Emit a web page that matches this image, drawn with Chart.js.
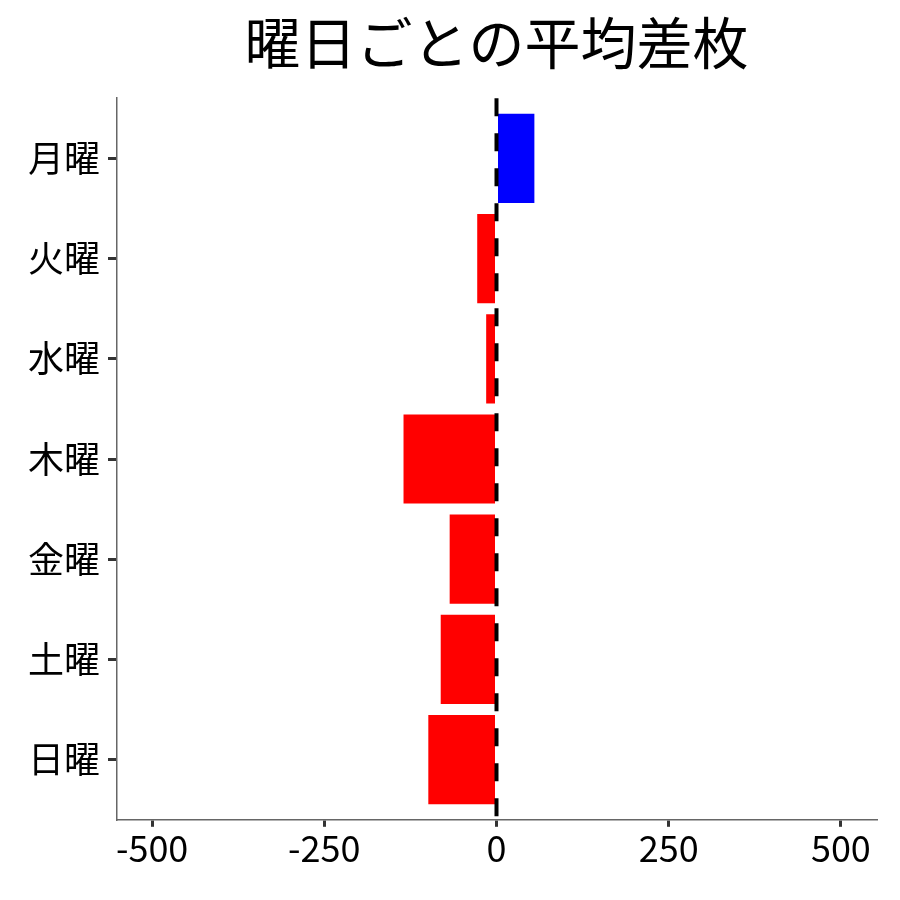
<!DOCTYPE html>
<html>
<head>
<meta charset="utf-8">
<script src="https://cdn.jsdelivr.net/npm/chart.js@4/dist/chart.umd.min.js"></script>
<style>
  html, body { margin: 0; padding: 0; background: #fff; }
  #wrap { width: 900px; height: 900px; }
</style>
</head>
<body>
<div id="wrap"><canvas id="diffChart" width="900" height="900"></canvas></div>
<script>
const days = ['月曜', '火曜', '水曜', '木曜', '金曜', '土曜', '日曜'];
const avgDiff = [55, -28, -15, -135, -68, -81, -99];
const xTicks = [-500, -250, 0, 250, 500];

const FONT = '"Noto Sans CJK JP", "Noto Sans", sans-serif';

// dashed reference line at x = 0
const zeroLine = {
    id: 'zeroLine',
    afterDatasetsDraw(chart) {
        const { ctx, chartArea, scales } = chart;
        const x = scales.x.getPixelForValue(0);
        ctx.save();
        ctx.strokeStyle = '#000';
        ctx.lineWidth = 4;
        ctx.setLineDash([18, 17]);
        ctx.beginPath();
        ctx.moveTo(x, chartArea.top);
        ctx.lineTo(x, chartArea.bottom + 8);
        ctx.stroke();
        ctx.restore();
    }
};

new Chart(document.getElementById('diffChart').getContext('2d'), {
    type: 'bar',
    data: {
        datasets: [{
            data: avgDiff.map((v, i) => ({ x: v, y: i })),
            backgroundColor: avgDiff.map(v => v >= 0 ? '#0000ff' : '#ff0000'),
            borderWidth: 0,
            categoryPercentage: 1,
            barPercentage: 0.89
        }]
    },
    options: {
        indexAxis: 'y',
        responsive: false,
        animation: false,
        layout: { padding: { top: 9, right: 24, left: 20, bottom: 30 } },
        plugins: {
            legend: { display: false },
            tooltip: { enabled: false },
            title: {
                display: true,
                text: '曜日ごとの平均差枚',
                fullSize: false,
                color: '#000',
                font: { family: FONT, size: 56, weight: 'normal' },
                padding: { top: 0, bottom: 22 }
            }
        },
        scales: {
            x: {
                type: 'linear',
                min: -551,
                max: 551,
                afterBuildTicks: axis => { axis.ticks = xTicks.map(v => ({ value: v })); },
                grid: { drawOnChartArea: false, drawTicks: true, tickLength: 7, color: '#333', lineWidth: 3 },
                border: { display: true, color: '#666', width: 1.5 },
                ticks: { color: '#000', font: { family: FONT, size: 36 }, padding: 0, maxRotation: 0 }
            },
            y: {
                type: 'linear',
                reverse: true,
                offset: false,
                min: -0.6,
                max: 6.6,
                afterBuildTicks: axis => { axis.ticks = days.map((d, i) => ({ value: i })); },
                grid: { offset: false, drawOnChartArea: false, drawTicks: true, tickLength: 9, color: '#333', lineWidth: 3 },
                border: { display: true, color: '#666', width: 1.5 },
                ticks: {
                    color: '#000',
                    font: { family: FONT, size: 36 },
                    padding: 8,
                    callback: value => days[value]
                }
            }
        }
    },
    plugins: [zeroLine]
});
</script>
</body>
</html>
